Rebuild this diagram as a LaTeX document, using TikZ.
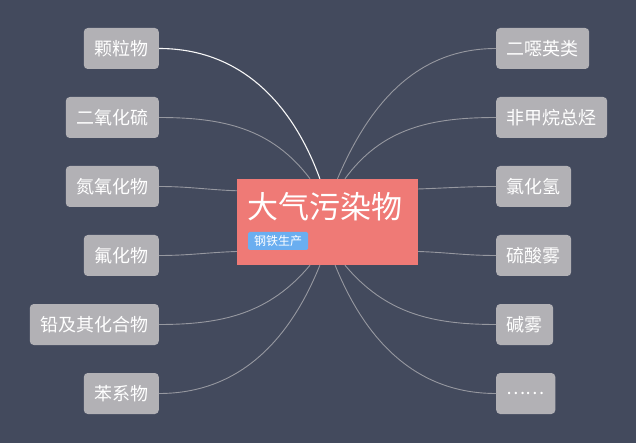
\documentclass[tikz,border=0pt]{standalone}
\usepackage{fontspec}
\usepackage{tikz}
\usepackage{xcolor}
\newfontfamily\cjk{Noto Sans CJK SC}
\definecolor{slateBg}{RGB}{67,74,93}
\definecolor{coreRose}{RGB}{239,122,118}
\definecolor{leafGrey}{RGB}{178,177,181}
\definecolor{tagBlue}{RGB}{106,174,240}
\definecolor{linkGrey}{RGB}{150,152,160}

\begin{document}
\begin{tikzpicture}[
  x=1pt,y=1pt,
  every node/.style={font=\cjk},
  leaf/.style={fill=leafGrey,text=white,rounded corners=4pt,minimum height=41pt,inner xsep=10.5pt,inner ysep=0pt,font=\cjk\fontsize{18}{18}\selectfont},
  link/.style={draw=linkGrey,line width=0.9pt},
  hot/.style={draw=white!92!linkGrey,line width=1.1pt}
]
  \fill[white] (0,0) rectangle (640,445);
  \fill[slateBg] (0,2) rectangle (636,445);

  \node[fill=coreRose,minimum width=181pt,minimum height=86pt,inner sep=0pt] (core) at (327.5,223) {};
  \node[anchor=west,inner sep=0pt,text=white,font=\cjk\fontsize{31}{31}\selectfont] (title) at (247,238) {大气污染物};
  \node[anchor=west,fill=tagBlue,text=white,rounded corners=1.5pt,inner xsep=6pt,inner ysep=0pt,minimum height=18pt,font=\cjk\fontsize{12}{12}\selectfont] (tag) at (248,204) {钢铁生产};

  \node[leaf,anchor=east] (p1) at (159,396.5) {颗粒物};
  \node[leaf,anchor=east] (p2) at (159,327.5) {二氧化硫};
  \node[leaf,anchor=east] (p3) at (159,258.5) {氮氧化物};
  \node[leaf,anchor=east] (p4) at (159,189.5) {氟化物};
  \node[leaf,anchor=east] (p5) at (159,120.5) {铅及其化合物};
  \node[leaf,anchor=east] (p6) at (159,51.5) {苯系物};

  \node[leaf,anchor=west] (q1) at (496,396.5) {二噁英类};
  \node[leaf,anchor=west] (q2) at (496,327.5) {非甲烷总烃};
  \node[leaf,anchor=west] (q3) at (496,258.5) {氯化氢};
  \node[leaf,anchor=west] (q4) at (496,189.5) {硫酸雾};
  \node[leaf,anchor=west] (q5) at (496,120.5) {碱雾};
  \node[leaf,anchor=west] (q6) at (496,51.5) {……};

  \draw[hot]  (core.100) to[out=110,in=0] (p1.east);
  \draw[link] (core.112) to[out=127,in=0] (p2.east);
  \draw[link] (core.161) to[out=178,in=0] (p3.east);
  \draw[link] (core.198) to[out=182,in=0] (p4.east);
  \draw[link] (core.248) to[out=230,in=0] (p5.east);
  \draw[link] (core.260) to[out=248,in=0] (p6.east);
  \draw[link] (core.77.5) to[out=67,in=180] (q1.west);
  \draw[link] (core.68) to[out=54,in=180] (q2.west);
  \draw[link] (core.20.6) to[out=2,in=180] (q3.west);
  \draw[link] (core.342) to[out=-2,in=180] (q4.west);
  \draw[link] (core.292) to[out=-50,in=180] (q5.west);
  \draw[link] (core.280) to[out=-68,in=180] (q6.west);
\end{tikzpicture}
\end{document}
